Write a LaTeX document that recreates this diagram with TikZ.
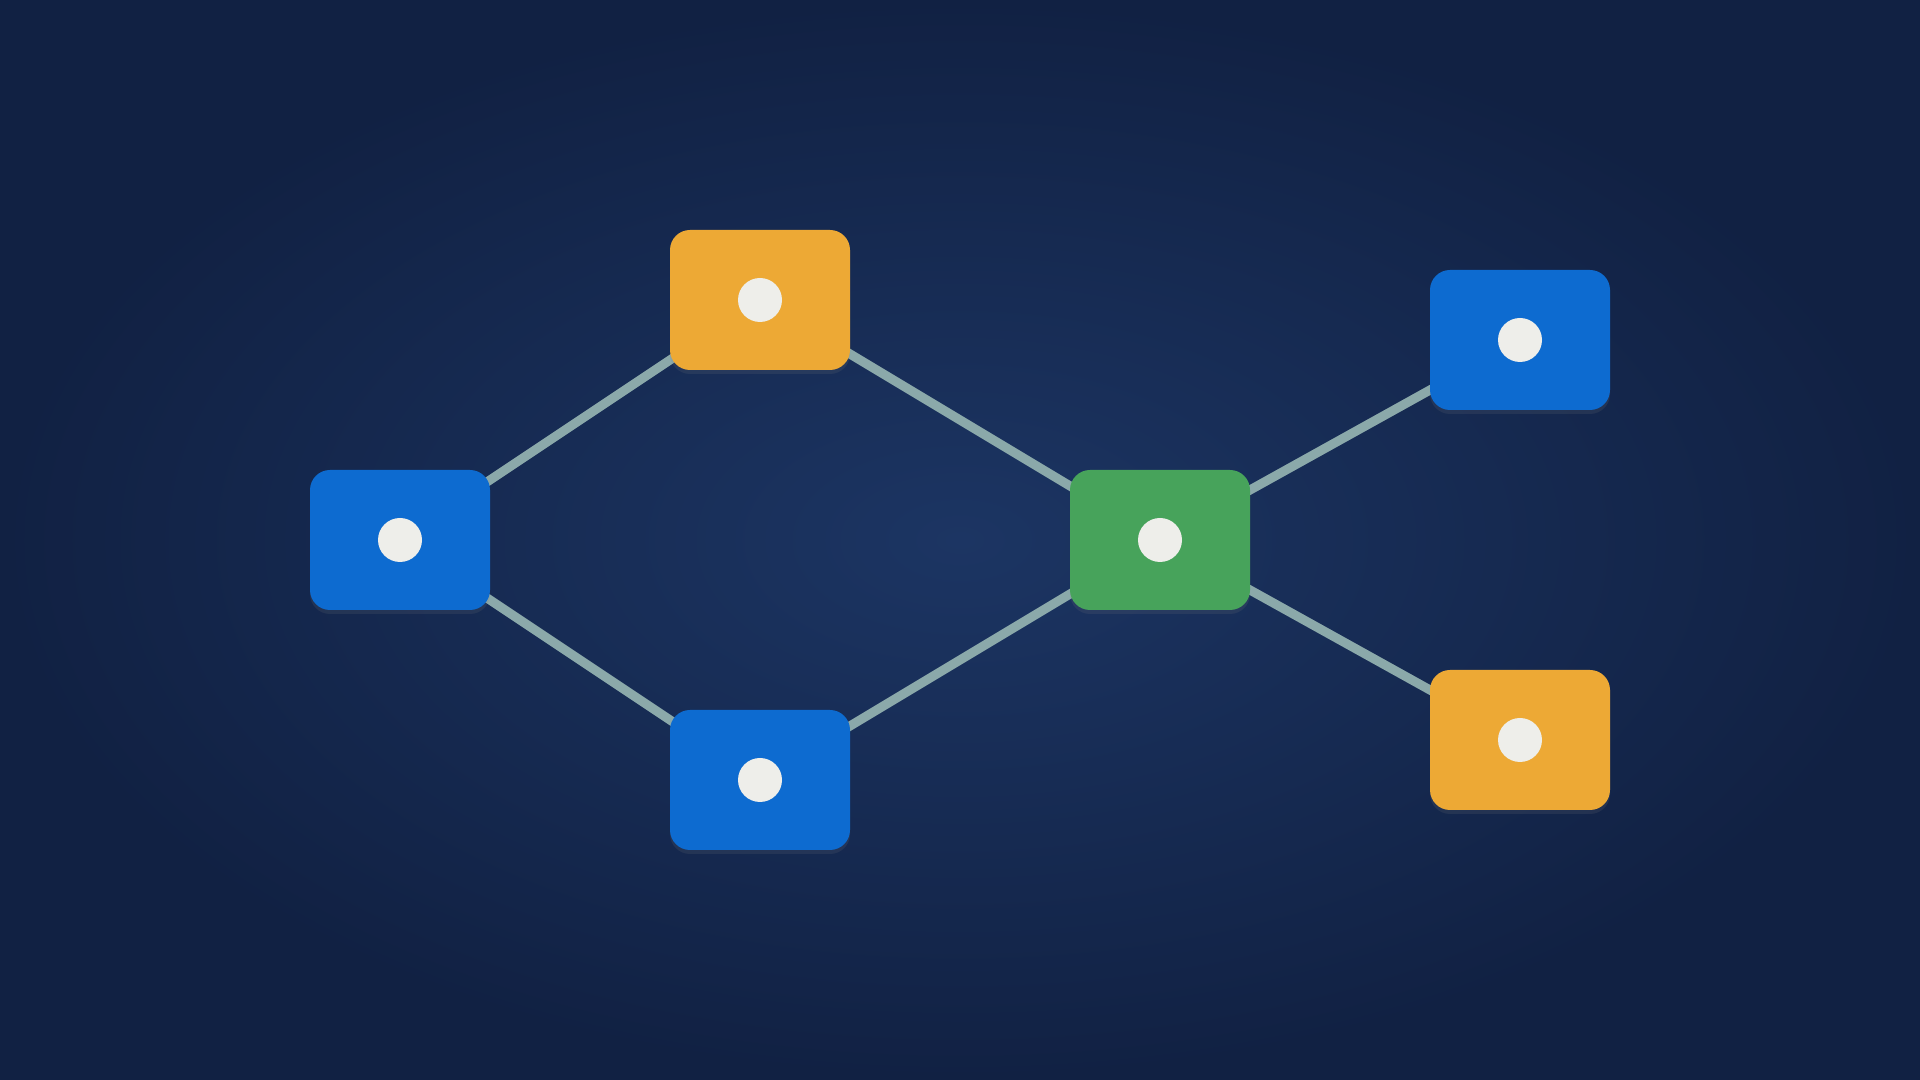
\documentclass[tikz,border=0pt]{standalone}
\usepackage{tikz}
\usetikzlibrary{shadows}
\definecolor{bgin}{HTML}{1C3563}
\definecolor{bgout}{HTML}{112143}
\definecolor{boxblue}{HTML}{0D6BD0}
\definecolor{boxorange}{HTML}{EDA935}
\definecolor{boxgreen}{HTML}{47A35B}
\definecolor{linkcol}{HTML}{8BA9AA}
\definecolor{dotcol}{HTML}{EEEEEA}
\pgfdeclarelayer{bg}
\pgfdeclarelayer{links}
\pgfsetlayers{bg,links,main}

\begin{document}
\begin{tikzpicture}[every node/.style={rectangle, rounded corners=2mm, minimum width=18mm, minimum height=14mm, inner sep=0pt,
        drop shadow={shadow xshift=0mm, shadow yshift=-0.4mm, opacity=0.15},
        path picture={\fill[dotcol] (path picture bounding box.center) circle (2.2mm);}},
    link/.style={draw=linkcol, line width=2.6pt}]
    \begin{pgfonlayer}{bg}
        \shade[inner color=bgin, outer color=bgout] (0,0) rectangle (19.2,10.8);
    \end{pgfonlayer}
    \useasboundingbox (0,0) rectangle (19.2,10.8);

    \node[fill=boxblue] (left) at (4.0,5.4) {};
    \node[fill=boxorange] (top) at (7.6,7.8) {};
    \node[fill=boxblue] (bottom) at (7.6,3.0) {};
    \node[fill=boxgreen] (hub) at (11.6,5.4) {};
    \node[fill=boxblue] (upper) at (15.2,7.4) {};
    \node[fill=boxorange] (lower) at (15.2,3.4) {};

    \begin{pgfonlayer}{links}
        \draw[link] (left.center) -- (top.center);
        \draw[link] (left.center) -- (bottom.center);
        \draw[link] (top.center) -- (hub.center);
        \draw[link] (bottom.center) -- (hub.center);
        \draw[link] (hub.center) -- (upper.center);
        \draw[link] (hub.center) -- (lower.center);
    \end{pgfonlayer}
\end{tikzpicture}
\end{document}
